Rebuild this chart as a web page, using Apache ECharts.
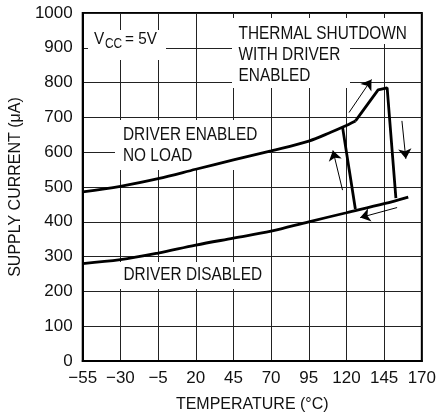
<!DOCTYPE html>
<html>
<head>
<meta charset="utf-8">
<script src="https://cdn.jsdelivr.net/npm/echarts@6/dist/echarts.min.js"></script>
<style>html,body{margin:0;padding:0;background:#fff}#c{width:439px;height:418px}</style>
</head>
<body>
<div id="c"></div>
<script>
// Data
var enabledTemp = [-55, -30, -5, 20, 45, 70, 95, 110, 118, 126];
var enabledCurrent = [486, 502, 524, 551, 578, 604, 632, 658, 673, 690];
var shutdownTemp = [126, 141, 147, 152.8];
var shutdownCurrent = [690, 779, 785, 468];
var recoverTemp = [117.4, 125.9];
var recoverCurrent = [672, 437];
var disabledTemp = [-55, -30, -5, 20, 45, 70, 95, 120, 145, 161];
var disabledCurrent = [280, 291, 310, 333, 353, 373, 400, 426, 452, 471];
var arrowFrom = [[121.7, 714], [156.8, 690], [117.4, 491], [153.6, 441]];
var arrowTo = [[136.6, 809], [159.4, 581], [111, 605], [129.1, 412]];
var xTicks = [-55, -30, -5, 20, 45, 70, 95, 120, 145, 170];
var yTicks = [0, 100, 200, 300, 400, 500, 600, 700, 800, 900, 1000];

var FONT = "'Liberation Sans',Arial,sans-serif";
function pairs(xs, ys) { return xs.map(function (x, i) { return [x, ys[i]]; }); }

function label(text, x, y, size, sx) {
  return {type: 'text', z: 6, x: x, y: y, scaleX: sx, style: {
    text: text, x: 0, y: 0, font: size + 'px ' + FONT, fill: '#111',
    textAlign: 'left', textVerticalAlign: 'middle'}};
}
function box(x1, y1, x2, y2) {
  return {type: 'rect', z: 5, shape: {x: x1, y: y1, width: x2 - x1, height: y2 - y1},
    style: {fill: '#fff'}, silent: true};
}

var chart = echarts.init(document.getElementById('c'), null, {renderer: 'canvas'});
var lineStyle = {color: '#000', width: 2.8};
var option = {
  animation: false,
  backgroundColor: '#fff',
  grid: {left: 72, right: 15, top: 13, bottom: 54, show: true, borderColor: '#000', borderWidth: 2},
  xAxis: {
    type: 'value', min: xTicks[0], max: xTicks[xTicks.length - 1], interval: 25,
    axisLine: {show: true, onZero: false, lineStyle: {color: '#000', width: 2}},
    axisTick: {show: false},
    splitLine: {show: true, lineStyle: {color: '#222', width: 1}},
    axisLabel: {color: '#111', fontFamily: FONT, fontSize: 17, margin: 9,
      formatter: function (v) { return String(v).replace('-', '\u2212'); }},
    name: 'TEMPERATURE (\u00B0C)', nameLocation: 'middle', nameGap: 36,
    nameTextStyle: {color: '#111', fontFamily: FONT, fontSize: 16}
  },
  yAxis: {
    type: 'value', min: yTicks[0], max: yTicks[yTicks.length - 1], interval: 100,
    axisLine: {show: true, onZero: false, lineStyle: {color: '#000', width: 2}},
    axisTick: {show: false},
    splitLine: {show: true, lineStyle: {color: '#222', width: 1}},
    axisLabel: {color: '#111', fontFamily: FONT, fontSize: 17, margin: 10, padding: [4, 0, 0, 0],
      formatter: function (v) { return String(v); }},
    name: 'SUPPLY CURRENT (\u03BCA)', nameLocation: 'middle', nameGap: 56,
    nameTextStyle: {color: '#111', fontFamily: FONT, fontSize: 16}
  },
  graphic: [
    box(88, 30, 166, 60),
    box(232, 18, 416, 44),
    box(232, 44, 350, 88),
    box(115, 120, 262, 170),
    box(118, 262, 270, 289),
    label('V', 94, 39.5, 17, 0.9),
    label('CC', 105, 44.5, 14, 0.85),
    label('= 5V', 125, 39.5, 17, 0.9),
    label('THERMAL SHUTDOWN', 238.5, 33.5, 19, 0.81),
    label('WITH DRIVER', 238.5, 55, 19, 0.81),
    label('ENABLED', 238.5, 76, 19, 0.81),
    label('DRIVER ENABLED', 123, 135, 19, 0.81),
    label('NO LOAD', 123, 156, 19, 0.81),
    label('DRIVER DISABLED', 123.5, 275, 19, 0.81)
  ],
  series: [
    {type: 'line', z: 10, smooth: 0.35, symbol: 'none', lineStyle: lineStyle, data: pairs(enabledTemp, enabledCurrent)},
    {type: 'line', z: 10, symbol: 'none', lineStyle: lineStyle, data: pairs(shutdownTemp, shutdownCurrent)},
    {type: 'line', z: 10, symbol: 'none', lineStyle: lineStyle, data: pairs(recoverTemp, recoverCurrent)},
    {type: 'line', z: 10, smooth: 0.35, symbol: 'none', lineStyle: lineStyle, data: pairs(disabledTemp, disabledCurrent)},
    {type: 'lines', z: 11, coordinateSystem: 'cartesian2d', symbol: ['none', 'arrow'], symbolSize: [4, 10],
      lineStyle: {color: '#000', width: 1, opacity: 1},
      data: arrowFrom.map(function (f, i) { return {coords: [f, arrowTo[i]]}; })}
  ]
};
chart.setOption(option);
</script>
</body>
</html>
